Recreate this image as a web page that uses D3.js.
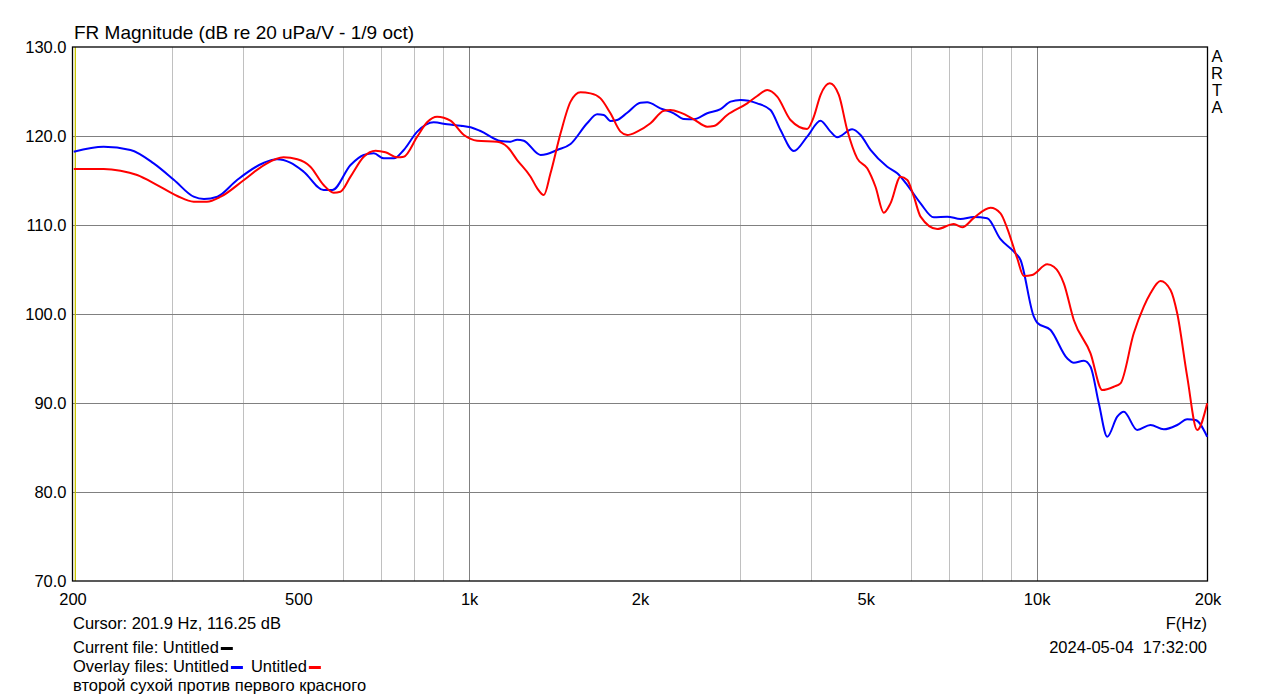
<!DOCTYPE html>
<html><head><meta charset="utf-8">
<script src="https://cdn.jsdelivr.net/npm/d3@7"></script>
<style>body{margin:0;background:#fff}text{font-family:"Liberation Sans",Arial,sans-serif;fill:#000}</style>
</head><body><svg id="c" width="1279" height="699"></svg>
<script>
const blueFreq = [201,227,253,278,302,327,341,360,390,435,459,484,511,554,574,618,652,679,707,737,767,810,866,915,966,1006,1047,1136,1183,1215,1248,1336,1372,1429,1509,1614,1681,1727,1774,1823,1899,2004,2059,2173,2294,2389,2488,2627,2773,2888,3007,3218,3396,3537,3733,3941,4160,4332,4452,4730,4894,5096,5454,5680,5916,6243,6588,6956,7342,7750,8181,8636,9116,9366,9886,10023,10580,11318,11626,12108,12442,12868,13315,13867,14243,15035,15868,16749,17686,18418,19050,19976];
const blueDb = [118.24,118.8,118.43,116.93,115.06,113.18,112.92,113.18,115.06,117.0,117.38,117.0,115.99,113.93,113.93,116.74,117.87,118.05,117.49,117.49,118.43,120.49,121.54,121.31,121.16,120.98,120.56,119.44,119.36,119.59,119.47,117.87,117.98,118.43,119.1,121.43,122.44,122.36,121.69,121.8,122.62,123.74,123.78,123.11,122.55,121.91,121.88,122.55,123.03,123.86,124.04,123.67,122.92,120.67,118.31,119.93,121.72,120.49,119.86,120.75,120.11,118.43,116.55,115.81,114.49,112.43,110.86,110.94,110.67,110.9,110.75,108.4,107.0,106.07,99.7,99.02,98.2,95.02,94.53,94.75,94.08,89.97,86.21,88.46,89.02,86.97,87.53,87.04,87.53,88.17,88.09,86.21];
const redFreq = [201,227,243,260,282,306,327,345,365,401,435,471,498,525,554,577,593,618,652,684,712,747,767,810,843,878,927,979,1033,1120,1167,1215,1283,1318,1354,1391,1449,1509,1571,1636,1704,1774,1848,1899,1977,2087,2203,2263,2357,2488,2627,2698,2849,3090,3218,3351,3490,3683,3941,4049,4160,4320,4481,4636,4828,5028,5200,5378,5526,5756,5916,6076,6243,6680,7145,7393,7750,8292,8636,8874,9240,9492,9821,10438,10720,11164,11626,12442,13046,13676,14052,14828,15444,15868,16528,17212,17686,18418,19182,19976];
const redDb = [116.29,116.29,116.1,115.62,114.49,113.26,112.62,112.62,113.18,115.06,116.74,117.6,117.38,116.55,114.49,113.63,113.74,115.43,117.67,118.35,118.17,117.6,117.67,119.93,121.54,122.17,121.72,120.11,119.47,119.36,118.8,117.3,115.43,114.12,113.37,115.81,120.3,123.86,124.91,124.79,124.23,122.55,120.49,120.11,120.49,121.43,122.84,122.92,122.62,121.88,121.05,121.12,122.36,123.67,124.49,125.17,124.42,121.8,120.8,122.17,124.6,125.92,124.61,120.67,117.49,116.37,114.3,111.38,112.43,115.43,115.06,113.18,110.94,109.55,110.11,109.74,110.8,111.94,111.31,109.63,106.26,104.27,104.38,105.58,105.31,103.45,99.33,95.58,91.46,91.83,92.21,97.83,100.82,102.33,103.71,102.7,100.08,92.96,86.97,89.97];
const xTickValues = [200,500,1000,2000,5000,10000,20000];
const xTickLabels = ["200","500","1k","2k","5k","10k","20k"];
const xGridMinor = [300,400,600,700,800,900,3000,4000,6000,7000,8000,9000];
const xGridMajor = [1000,10000];
const yTicks = [70,80,90,100,110,120,130];
const cursorFreq = 201.9;

const svg = d3.select("#c");
const L=72.5, R=1207.5, T=47, B=581;
const x = d3.scaleLog().domain([200,20000]).range([L,R]);
const y = d3.scaleLinear().domain([70,130]).range([B,T]);

// grid
svg.append("g").selectAll("line").data(xGridMinor).join("line")
  .attr("x1",d=>Math.round(x(d))+0.5).attr("x2",d=>Math.round(x(d))+0.5).attr("y1",T).attr("y2",B)
  .attr("stroke","#c0c0c0").attr("stroke-width",1);
svg.append("g").selectAll("line").data(xGridMajor).join("line")
  .attr("x1",d=>Math.round(x(d))+0.5).attr("x2",d=>Math.round(x(d))+0.5).attr("y1",T).attr("y2",B)
  .attr("stroke","#808080").attr("stroke-width",1);
svg.append("g").selectAll("line").data(yTicks.slice(1,-1)).join("line")
  .attr("x1",L).attr("x2",R).attr("y1",d=>Math.round(y(d))+0.5).attr("y2",d=>Math.round(y(d))+0.5)
  .attr("stroke","#808080").attr("stroke-width",1);

// cursor line
svg.append("line").attr("x1",x(cursorFreq)+0.5).attr("x2",x(cursorFreq)+0.5).attr("y1",T).attr("y2",B)
  .attr("stroke","#c8c400").attr("stroke-width",1.3);

// frame
svg.append("rect").attr("x",L).attr("y",T).attr("width",R-L).attr("height",B-T)
  .attr("fill","none").attr("stroke","#000").attr("stroke-width",1.3);

const line = d3.line().x(d=>x(d[0])).y(d=>y(d[1])).curve(d3.curveMonotoneX);
const blue = blueFreq.map((f,i)=>[f,blueDb[i]]);
const red = redFreq.map((f,i)=>[f,redDb[i]]);
svg.append("path").attr("d",line(blue)).attr("fill","none").attr("stroke","#0000ff").attr("stroke-width",2);
svg.append("path").attr("d",line(red)).attr("fill","none").attr("stroke","#ff0000").attr("stroke-width",2);

// axes
const xa = svg.append("g").attr("transform",`translate(0,${B})`)
  .call(d3.axisBottom(x).tickValues(xTickValues).tickFormat((d,i)=>xTickLabels[i]).tickSize(0).tickPadding(12));
xa.select(".domain").remove();
xa.selectAll("text").style("font-size","16.5px").style("font-family",'"Liberation Sans",Arial,sans-serif').attr("fill","#000");
const ya = svg.append("g").attr("transform",`translate(${L-6},0)`)
  .call(d3.axisLeft(y).tickValues(yTicks).tickFormat(d3.format(".1f")).tickSize(0).tickPadding(0));
ya.select(".domain").remove();
ya.selectAll("text").style("font-size","16.5px").style("font-family",'"Liberation Sans",Arial,sans-serif').attr("fill","#000").attr("dy","0.33em");

// title
svg.append("text").attr("x",74).attr("y",39).style("font-size","19px").text("FR Magnitude (dB re 20 uPa/V - 1/9 oct)");
// ARTA
["A","R","T","A"].forEach((c,i)=>svg.append("text").attr("x",1217).attr("y",62+i*17).attr("text-anchor","middle").style("font-size","16.5px").text(c));

// footer
const fs="16.5px";
svg.append("text").attr("x",73).attr("y",629).style("font-size",fs).text("Cursor: 201.9 Hz, 116.25 dB");
const t2 = svg.append("text").attr("x",73).attr("y",653).style("font-size",fs).text("Current file: Untitled");
const w2 = t2.node().getComputedTextLength();
svg.append("rect").attr("x",73+w2+2).attr("y",647).attr("width",12).attr("height",3).attr("fill","#000");
const t3 = svg.append("text").attr("x",73).attr("y",672).style("font-size",fs).text("Overlay files: Untitled");
const w3 = t3.node().getComputedTextLength();
svg.append("rect").attr("x",73+w3+2).attr("y",666).attr("width",12).attr("height",3).attr("fill","#0000ff");
const t4 = svg.append("text").attr("x",73+w3+22).attr("y",672).style("font-size",fs).text("Untitled");
const w4 = t4.node().getComputedTextLength();
svg.append("rect").attr("x",73+w3+22+w4+2).attr("y",666).attr("width",12).attr("height",3).attr("fill","#ff0000");
svg.append("text").attr("x",73).attr("y",691).style("font-size",fs).text("второй сухой против первого красного");
svg.append("text").attr("x",1207).attr("y",629).attr("text-anchor","end").style("font-size",fs).text("F(Hz)");
svg.append("text").attr("x",1207).attr("y",653).attr("text-anchor","end").style("font-size",fs).style("white-space","pre").text("2024-05-04  17:32:00");
</script></body></html>
